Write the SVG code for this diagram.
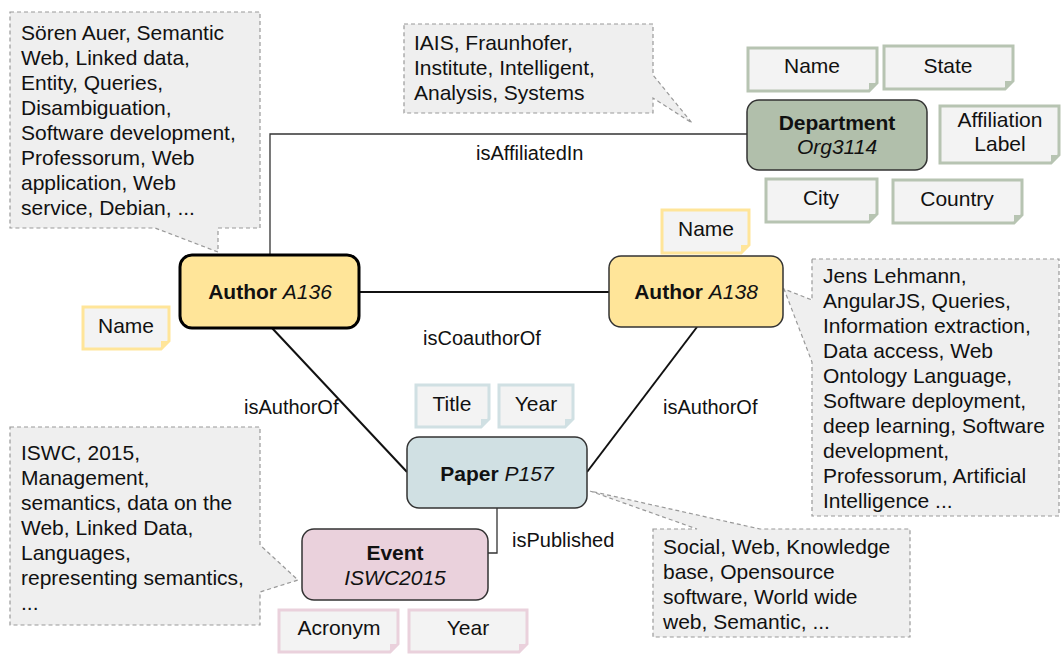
<svg xmlns="http://www.w3.org/2000/svg" width="1061" height="656" viewBox="0 0 1061 656">
<style>
text{font-family:"Liberation Sans",Arial,sans-serif;font-size:21px;fill:#111}
.c{text-anchor:middle}
.b{font-weight:bold}
.i{font-style:italic}
.lbl{font-size:20px}
.callout{fill:#efefef;stroke:#999;stroke-width:1.2;stroke-dasharray:4 3}
.node{stroke:#333;stroke-width:1.5}
.attr{fill:#f3f3f3;stroke-width:3}
.y{stroke:#ffe599}.yf{fill:#ffe599}
.g{stroke:#b7c4b2}.gf{fill:#b7c4b2}
.bl{stroke:#d0e0e3}.blf{fill:#d0e0e3}
.p{stroke:#ead1dc}.pf{fill:#ead1dc}
.edge{fill:none;stroke:#111;stroke-width:2}
.thin{fill:none;stroke:#333;stroke-width:1.3}
</style>
<g id="connectors">
<polyline class="thin" points="270,255 270,134 747,134"/>
<line class="edge" x1="360" y1="292" x2="609" y2="292"/>
<line class="edge" x1="272" y1="328" x2="407" y2="472"/>
<line class="edge" x1="697" y1="327" x2="587" y2="472"/>
<polyline class="thin" points="497,508 497,553 488,553"/>
<text class="lbl" x="476" y="160">isAffiliatedIn</text>
<text class="lbl" x="423" y="345">isCoauthorOf</text>
<text class="lbl" x="244" y="414">isAuthorOf</text>
<text class="lbl" x="663" y="414">isAuthorOf</text>
<text class="lbl" x="512" y="547">isPublished</text>
</g>
<g id="callout-author-a136">
<path class="callout" d="M10,12 H260 V228 H218 V252 L155,228 H10 Z"/>
<text x="21" y="40">Sören Auer, Semantic</text>
<text x="21" y="65">Web, Linked data,</text>
<text x="21" y="90">Entity, Queries,</text>
<text x="21" y="115">Disambiguation,</text>
<text x="21" y="140">Software development,</text>
<text x="21" y="165">Professorum, Web</text>
<text x="21" y="190">application, Web</text>
<text x="21" y="215">service, Debian, ...</text>
</g>
<g id="callout-department">
<path class="callout" d="M404,24 H653 V75 L692,123 L653,98 V113 H404 Z"/>
<text x="414" y="50">IAIS, Fraunhofer,</text>
<text x="414" y="75">Institute, Intelligent,</text>
<text x="414" y="100">Analysis, Systems</text>
</g>
<g id="callout-author-a138">
<path class="callout" d="M812,259 H1059 V516 H812 V362 L784,289 L812,300 Z"/>
<text x="823" y="283">Jens Lehmann,</text>
<text x="823" y="308">AngularJS, Queries,</text>
<text x="823" y="333">Information extraction,</text>
<text x="823" y="358">Data access, Web</text>
<text x="823" y="383">Ontology Language,</text>
<text x="823" y="408">Software deployment,</text>
<text x="823" y="433">deep learning, Software</text>
<text x="823" y="458">development,</text>
<text x="823" y="483">Professorum, Artificial</text>
<text x="823" y="508">Intelligence ...</text>
</g>
<g id="callout-event">
<path class="callout" d="M10,427 H260 V545 L298,580 L260,592 V625 H10 Z"/>
<text x="21" y="460">ISWC, 2015,</text>
<text x="21" y="485">Management,</text>
<text x="21" y="510">semantics, data on the</text>
<text x="21" y="535">Web, Linked Data,</text>
<text x="21" y="560">Languages,</text>
<text x="21" y="585">representing semantics,</text>
<text x="21" y="610">...</text>
</g>
<g id="callout-paper">
<path class="callout" d="M653,529 H697 L590,491 L760,529 H910 V637 H653 Z"/>
<text x="663" y="554">Social, Web, Knowledge</text>
<text x="663" y="579">base, Opensource</text>
<text x="663" y="604">software, World wide</text>
<text x="663" y="629">web, Semantic, ...</text>
</g>
<g id="department">
<rect class="node" x="747" y="100" width="180" height="70" rx="12" fill="#b1bfab"/>
<text class="c b" x="837" y="130">Department</text>
<text class="c i" x="837" y="154">Org3114</text>
</g>
<g id="dept-name">
<path class="attr g" d="M748,48 H877 V83 L869,91 H748 Z"/><path class="gf" d="M877,83 L869,91 L869,83 Z"/>
<text class="c" x="812" y="73">Name</text>
</g>
<g id="dept-state">
<path class="attr g" d="M884,46 H1013 V81 L1005,89 H884 Z"/><path class="gf" d="M1013,81 L1005,89 L1005,81 Z"/>
<text class="c" x="948" y="73">State</text>
</g>
<g id="dept-affiliation-label">
<path class="attr g" d="M940,106 H1059 V155 L1051,163 H940 Z"/><path class="gf" d="M1059,155 L1051,163 L1051,155 Z"/>
<text class="c" x="1000" y="127">Affiliation</text>
<text class="c" x="1000" y="151">Label</text>
</g>
<g id="dept-city">
<path class="attr g" d="M766,179 H877 V214 L869,222 H766 Z"/><path class="gf" d="M877,214 L869,222 L869,214 Z"/>
<text class="c" x="821" y="205">City</text>
</g>
<g id="dept-country">
<path class="attr g" d="M893,180 H1022 V215 L1014,223 H893 Z"/><path class="gf" d="M1022,215 L1014,223 L1014,215 Z"/>
<text class="c" x="957" y="206">Country</text>
</g>
<g id="author-a136">
<rect x="180" y="255" width="179" height="73" rx="12" fill="#ffe599" stroke="#000" stroke-width="3"/>
<text class="c" x="270" y="299"><tspan class="b">Author</tspan> <tspan class="i">A136</tspan></text>
</g>
<g id="a136-name">
<path class="attr y" d="M83,307 H169 V341 L161,349 H83 Z"/><path class="yf" d="M169,341 L161,349 L161,341 Z"/>
<text class="c" x="126" y="333">Name</text>
</g>
<g id="author-a138">
<rect class="node" x="609" y="256" width="174" height="71" rx="12" fill="#ffe599"/>
<text class="c" x="696" y="299"><tspan class="b">Author</tspan> <tspan class="i">A138</tspan></text>
</g>
<g id="a138-name">
<path class="attr y" d="M662,210 H749 V245 L741,253 H662 Z"/><path class="yf" d="M749,245 L741,253 L741,245 Z"/>
<text class="c" x="706" y="236">Name</text>
</g>
<g id="paper-p157">
<rect class="node" x="407" y="437" width="180" height="71" rx="12" fill="#d0e0e3"/>
<text class="c" x="497" y="481"><tspan class="b">Paper</tspan> <tspan class="i">P157</tspan></text>
</g>
<g id="paper-title">
<path class="attr bl" d="M416,385 H489 V419 L481,427 H416 Z"/><path class="blf" d="M489,419 L481,427 L481,419 Z"/>
<text class="c" x="452" y="411">Title</text>
</g>
<g id="paper-year">
<path class="attr bl" d="M499,385 H573 V419 L565,427 H499 Z"/><path class="blf" d="M573,419 L565,427 L565,419 Z"/>
<text class="c" x="536" y="411">Year</text>
</g>
<g id="event-iswc2015">
<rect class="node" x="302" y="529" width="186" height="71" rx="12" fill="#ead1dc"/>
<text class="c b" x="395" y="560">Event</text>
<text class="c i" x="395" y="585">ISWC2015</text>
</g>
<g id="event-acronym">
<path class="attr p" d="M279,610 H398 V644 L390,652 H279 Z"/><path class="pf" d="M398,644 L390,652 L390,644 Z"/>
<text class="c" x="339" y="635">Acronym</text>
</g>
<g id="event-year">
<path class="attr p" d="M409,610 H527 V644 L519,652 H409 Z"/><path class="pf" d="M527,644 L519,652 L519,644 Z"/>
<text class="c" x="468" y="635">Year</text>
</g>
</svg>
